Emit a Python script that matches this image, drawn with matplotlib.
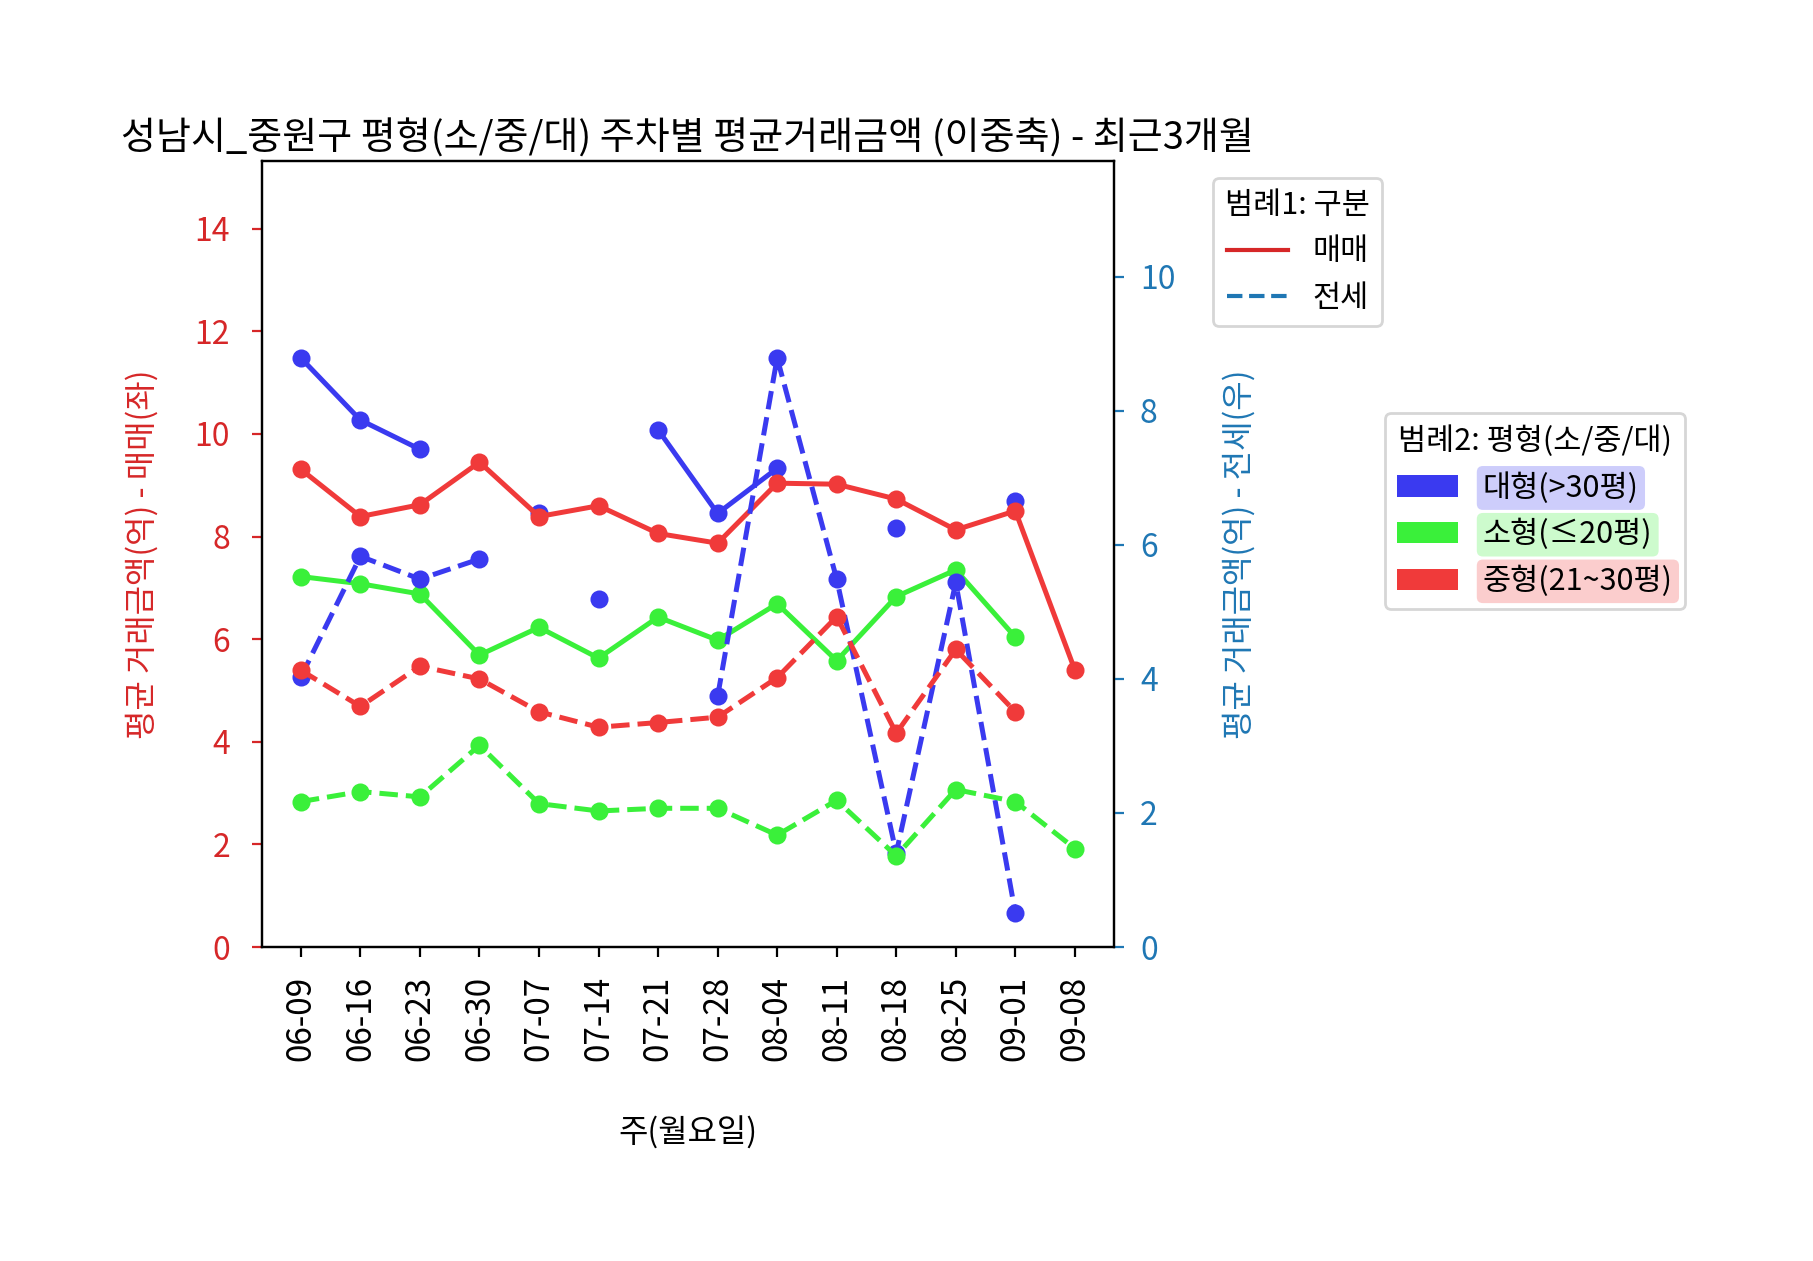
import numpy as np
import matplotlib
matplotlib.use("Agg")
import matplotlib.pyplot as plt
from matplotlib.lines import Line2D
from matplotlib.patches import Patch

plt.rcParams["font.family"] = ["Noto Sans CJK KR", "DejaVu Sans"]
plt.rcParams["axes.unicode_minus"] = False

nan = np.nan

# ============ 데이터 ============
weeks = ["06-09", "06-16", "06-23", "06-30", "07-07", "07-14", "07-21",
         "07-28", "08-04", "08-11", "08-18", "08-25", "09-01", "09-08"]
sizes = ["대형(>30평)", "소형(≤20평)", "중형(21~30평)"]
size_colors = ["#3a3af0", "#3af03a", "#f03a3a"]

# 매매 (좌축, 억)
sale_large = [11.48, 10.27, 9.70, nan, 8.45, nan, 10.08, 8.45, 9.33, nan, 8.17, nan, 8.70, nan]
sale_small = [7.22, 7.08, 6.88, 5.69, 6.23, 5.63, 6.43, 5.98, 6.69, 5.58, 6.83, 7.35, 6.04, nan]
sale_mid = [9.31, 8.39, 8.62, 9.45, 8.39, 8.60, 8.06, 7.87, 9.04, 9.02, 8.73, 8.13, 8.50, 5.40]

# 전세 (우축, 억)
rent_large = [4.03, 5.83, 5.49, 5.79, nan, 5.20, nan, 3.74, 8.79, 5.49, 1.40, 5.44, 0.51, nan]
rent_small = [2.17, 2.32, 2.24, 3.01, 2.14, 2.03, 2.07, 2.07, 1.67, 2.19, 1.36, 2.35, 2.17, 1.47]
rent_mid = [4.13, 3.59, 4.19, 4.00, 3.51, 3.28, 3.35, 3.43, 4.02, 4.93, 3.19, 4.44, 3.51, nan]

sale_series = [sale_large, sale_small, sale_mid]
rent_series = [rent_large, rent_small, rent_mid]

LEFT_COLOR = "#d62728"
RIGHT_COLOR = "#1f77b4"

fig = plt.figure(figsize=(9.065, 6.305), dpi=200)
ax1 = fig.add_axes([0.1446, 0.249, 0.4696, 0.6236])
ax2 = ax1.twinx()

x = np.arange(len(weeks))
for vals, color in zip(sale_series, size_colors):
    ax1.plot(x, vals, color=color, linestyle="-", marker="o",
             linewidth=1.8, markersize=5.5)
for vals, color in zip(rent_series, size_colors):
    ax2.plot(x, vals, color=color, linestyle="--", marker="o",
             linewidth=1.8, markersize=5.5)

# y축 범위: 최대값 기준 여유
sale_max = np.nanmax(np.array(sale_series, dtype=float))
rent_max = np.nanmax(np.array(rent_series, dtype=float))
ax1.set_ylim(0, sale_max * 1.335)
ax2.set_ylim(0, rent_max * 1.335)

ax1.set_xticks(x)
ax1.set_xticklabels(weeks, rotation=90, fontsize=12)
ax1.tick_params(axis="x", pad=7)
ax1.set_xlabel("주(월요일)", fontsize=11.5, labelpad=20)

ax1.set_ylabel("평균 거래금액(억) - 매매(좌)", color=LEFT_COLOR, fontsize=11.5, labelpad=13)
ax2.set_ylabel("평균 거래금액(억) - 전세(우)", color=RIGHT_COLOR, fontsize=11.5, labelpad=17)
ax1.tick_params(axis="y", colors=LEFT_COLOR, labelsize=11.5, pad=8)
ax2.tick_params(axis="y", colors=RIGHT_COLOR, labelsize=11.5, pad=6)
for sp in ax2.spines.values():
    sp.set_color("black")

ax1.set_title("성남시_중원구 평형(소/중/대) 주차별 평균거래금액 (이중축) - 최근3개월",
              fontsize=13.7, pad=4)

# 범례1: 구분
h1 = [Line2D([0], [0], color=LEFT_COLOR, linestyle="-", linewidth=1.5),
      Line2D([0], [0], color=RIGHT_COLOR, linestyle="--", linewidth=1.5)]
leg1 = fig.legend(h1, ["매매", "전세"], title="범례1: 구분",
                  loc="upper left", bbox_to_anchor=(0.669, 0.859),
                  bbox_transform=fig.transFigure, borderaxespad=0,
                  fontsize=11, title_fontsize=11)

# 범례2: 평형
h2 = [Patch(facecolor=c) for c in size_colors]
leg2 = fig.legend(h2, sizes, title="범례2: 평형(소/중/대)",
                  loc="upper left", bbox_to_anchor=(0.764, 0.6725),
                  bbox_transform=fig.transFigure, borderaxespad=0,
                  fontsize=11, title_fontsize=11)
for txt, c in zip(leg2.get_texts(), size_colors):
    txt.set_bbox(dict(facecolor=c, alpha=0.25, edgecolor="none",
                      boxstyle="round,pad=0.2"))

fig.savefig("out.png", dpi=200)
